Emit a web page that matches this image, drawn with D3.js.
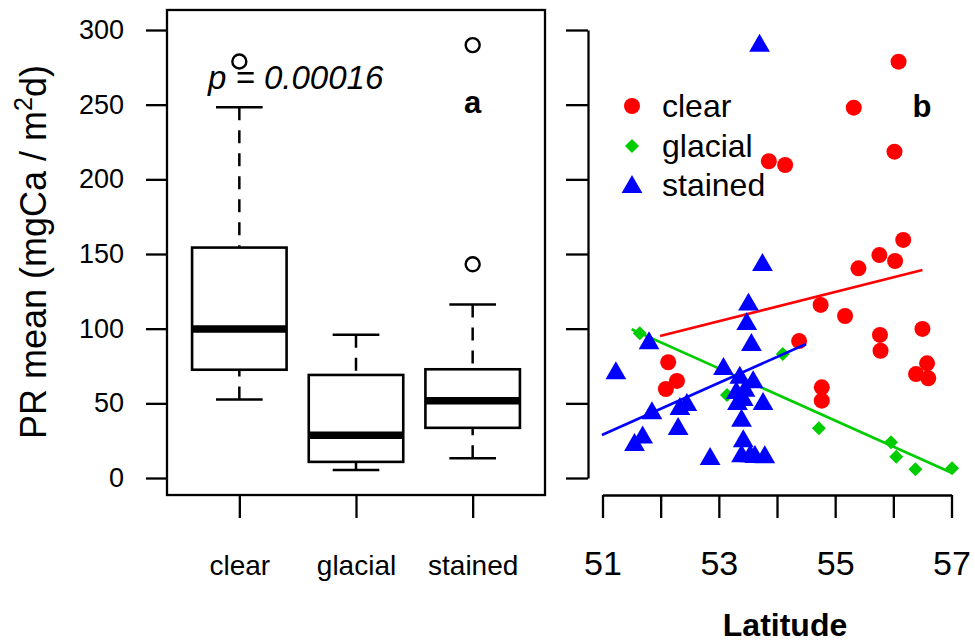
<!DOCTYPE html>
<html>
<head>
<meta charset="utf-8">
<script src="https://cdn.jsdelivr.net/npm/d3@7"></script>
<style>
  html, body { margin: 0; padding: 0; background: #fff; }
  svg { display: block; }
  text { font-family: "Liberation Sans", Arial, sans-serif; fill: #000; }
</style>
</head>
<body>
<svg id="chart" width="975" height="643"></svg>
<script>
// ---------- data ----------
const categories = ["clear", "glacial", "stained"];
const boxLow     = [52.5, 5.3, 13.3];
const boxQ1      = [72.5, 10.8, 33.6];
const boxMedian  = [99.8, 28.6, 51.7];
const boxQ3      = [154.3, 69.0, 72.8];
const boxHigh    = [248.2, 95.9, 116.2];
const boxOutliers = [[278.9], [], [143.1, 289.9]];

const yTicks = [0, 50, 100, 150, 200, 250, 300];
const latTicks = [51, 52, 53, 54, 55, 56, 57];
const latLabels = [51, 53, 55, 57];

const clearLat = [56.17, 55.76, 56.03, 55.40, 54.75, 55.17, 55.77, 55.78, 56.50, 54.38, 56.58, 56.39,
                  56.60, 54.77, 54.77, 52.13, 52.28, 52.09, 56.09, 55.32, 56.02, 53.86, 54.14];
const clearPR  = [159.4, 149.3, 145.3, 140.4, 115.9, 108.5, 95.8, 85.2, 99.8, 91.7, 76.8, 69.6,
                  66.8, 60.7, 51.8, 77.5, 65.0, 59.6, 278.8, 248.0, 218.5, 212.1, 209.6];

const glacialLat = [51.64, 54.10, 53.14, 54.72, 55.96, 56.05, 56.38, 57.01];
const glacialPR  = [96.9, 83.0, 55.6, 33.3, 23.9, 14.3, 5.8, 6.5];

const stainedLat = [53.70, 53.75, 53.51, 53.48, 53.56, 51.80, 51.23, 53.08, 53.36, 53.59, 53.30, 53.42,
                    53.32, 53.45, 53.76, 51.85, 52.33, 52.45, 52.30, 53.39, 51.69, 51.55, 53.42, 53.39,
                    53.54, 53.62, 53.79, 52.85];
const stainedPR  = [289.5, 142.6, 116.1, 103.1, 89.1, 90.2, 70.1, 73.0, 67.2, 64.1, 56.9, 52.2,
                    49.6, 58.5, 49.6, 43.3, 46.2, 48.9, 32.8, 38.4, 27.2, 22.1, 24.6, 14.5,
                    14.5, 14.0, 13.9, 12.7];

const trendClear   = [[51.99, 95.1], [56.50, 139.3]];
const trendGlacial = [[51.50, 99.6], [57.00, 3.5]];
const trendStained = [[50.99, 28.8], [54.50, 89.7]];

const legendLabels = ["clear", "glacial", "stained"];

// ---------- styles ----------
const colClear = "#ff0000", colGlacial = "#00cd00", colStained = "#0000ff";
const font = '"Liberation Sans", Arial, sans-serif';

const svg = d3.select("#chart");
svg.append("rect").attr("width", 975).attr("height", 643).attr("fill", "#fff");

// shared y scale
const y = d3.scaleLinear().domain([0, 300]).range([478, 30]);

// ---------- left panel: boxplot ----------
const xb = d3.scaleLinear().domain([0.38, 3.62]).range([167, 545]);
const yLim = [-11.4, 313.4];
const left = svg.append("g");

// frame
left.append("rect")
  .attr("x", xb(0.38)).attr("y", y(yLim[1]))
  .attr("width", xb(3.62) - xb(0.38)).attr("height", y(yLim[0]) - y(yLim[1]))
  .attr("fill", "none").attr("stroke", "#000").attr("stroke-width", 2.3);

// y axis
const yAxisL = d3.axisLeft(y).tickValues(yTicks).tickSize(21).tickPadding(22);
const gyl = left.append("g").attr("transform", `translate(${xb(0.38)},0)`).call(yAxisL);
gyl.select(".domain").remove();
gyl.selectAll(".tick line").attr("stroke", "#000").attr("stroke-width", 2.3);
gyl.selectAll(".tick text").attr("font-family", font).attr("font-size", 27).attr("fill", "#000");

// x axis (categories)
const xAxisB = d3.axisBottom(xb).tickValues([1, 2, 3]).tickFormat((d) => categories[d - 1])
  .tickSize(23).tickPadding(37);
const gxb = left.append("g").attr("transform", `translate(0,${y(yLim[0])})`).call(xAxisB);
gxb.select(".domain").remove();
gxb.selectAll(".tick line").attr("stroke", "#000").attr("stroke-width", 2.3);
gxb.selectAll(".tick text").attr("font-family", font).attr("font-size", 28).attr("fill", "#000");

// boxes
const boxHalf = 0.405, capHalf = 0.2;
categories.forEach((c, i) => {
  const cx = i + 1;
  const g = left.append("g");
  g.append("line").attr("x1", xb(cx)).attr("x2", xb(cx)).attr("y1", y(boxHigh[i])).attr("y2", y(boxQ3[i]))
    .attr("stroke", "#000").attr("stroke-width", 2.5).attr("stroke-dasharray", "13,10");
  g.append("line").attr("x1", xb(cx)).attr("x2", xb(cx)).attr("y1", y(boxLow[i])).attr("y2", y(boxQ1[i]))
    .attr("stroke", "#000").attr("stroke-width", 2.5).attr("stroke-dasharray", "13,10");
  [boxHigh[i], boxLow[i]].forEach((v) => {
    g.append("line").attr("x1", xb(cx - capHalf)).attr("x2", xb(cx + capHalf)).attr("y1", y(v)).attr("y2", y(v))
      .attr("stroke", "#000").attr("stroke-width", 2.5);
  });
  g.append("rect").attr("x", xb(cx - boxHalf)).attr("y", y(boxQ3[i]))
    .attr("width", xb(cx + boxHalf) - xb(cx - boxHalf)).attr("height", y(boxQ1[i]) - y(boxQ3[i]))
    .attr("fill", "#fff").attr("stroke", "#000").attr("stroke-width", 2.6);
  g.append("line").attr("x1", xb(cx - boxHalf)).attr("x2", xb(cx + boxHalf))
    .attr("y1", y(boxMedian[i])).attr("y2", y(boxMedian[i]))
    .attr("stroke", "#000").attr("stroke-width", 7.5);
  boxOutliers[i].forEach((v) => {
    g.append("circle").attr("cx", xb(cx)).attr("cy", y(v)).attr("r", 7)
      .attr("fill", "none").attr("stroke", "#000").attr("stroke-width", 2.4);
  });
});

// annotation texts
left.append("text").attr("x", 208).attr("y", 89).attr("font-size", 33).attr("font-style", "italic")
  .text("p = 0.00016");
left.append("text").attr("x", xb(3)).attr("y", 113).attr("text-anchor", "middle")
  .attr("font-size", 31).attr("font-weight", "bold").text("a");

// y title
const yt = svg.append("text").attr("transform", "translate(46,252) rotate(-90)")
  .attr("text-anchor", "middle").attr("font-size", 36);
yt.append("tspan").text("PR mean (mgCa / m");
yt.append("tspan").attr("font-size", 25).attr("dy", -14).text("2");
yt.append("tspan").attr("dy", 14).text("d)");

// ---------- right panel: scatter ----------
const xl = d3.scaleLinear().domain([51, 57]).range([602.5, 951.5]);
const right = svg.append("g");

const yAxisR = d3.axisLeft(y).tickValues(yTicks).tickSize(22).tickSizeOuter(0).tickFormat("");
const gyr = right.append("g").attr("transform", "translate(588,0)").call(yAxisR);
gyr.selectAll("path, line").attr("stroke", "#000").attr("stroke-width", 2.3);

const xAxisR = d3.axisBottom(xl).tickValues(latTicks).tickSize(23).tickSizeOuter(0).tickPadding(33)
  .tickFormat((d) => latLabels.includes(d) ? d : "");
const gxr = right.append("g").attr("transform", "translate(0,495)").call(xAxisR);
gxr.selectAll("path, line").attr("stroke", "#000").attr("stroke-width", 2.3);
gxr.selectAll(".tick text").attr("font-family", font).attr("font-size", 34).attr("fill", "#000");

right.append("text").attr("x", 785).attr("y", 636).attr("text-anchor", "middle")
  .attr("font-size", 32).attr("font-weight", "bold").text("Latitude");

// symbols
const circleSym = d3.symbol().type(d3.symbolCircle).size(Math.PI * 64);
const triSym = d3.symbol().type(d3.symbolTriangle).size(187);
const diaSym = d3.symbol().type(d3.symbolSquare).size(98);

const line = d3.line().x((d) => xl(d[0])).y((d) => y(d[1]));

function drawPoints(lat, pr, sym, col, rot) {
  right.append("g").selectAll("path").data(lat.map((d, i) => [d, pr[i]])).join("path")
    .attr("d", sym)
    .attr("transform", (d) => `translate(${xl(d[0])},${y(d[1])})${rot ? " rotate(45)" : ""}`)
    .attr("fill", col);
}
function drawTrend(data, col) {
  right.append("path").datum(data).attr("d", line).attr("fill", "none")
    .attr("stroke", col).attr("stroke-width", 2.6);
}

drawPoints(clearLat, clearPR, circleSym, colClear, false);
drawTrend(trendClear, colClear);
drawPoints(glacialLat, glacialPR, diaSym, colGlacial, true);
drawTrend(trendGlacial, colGlacial);
drawPoints(stainedLat, stainedPR, triSym, colStained, false);
drawTrend(trendStained, colStained);

// legend
const legSyms = [[circleSym, colClear, false], [diaSym, colGlacial, true], [triSym, colStained, false]];
const legY = [106, 146, 185];
legendLabels.forEach((lab, i) => {
  const [s, c, r] = legSyms[i];
  right.append("path").attr("d", s)
    .attr("transform", `translate(632,${legY[i] + (i === 2 ? 2 : 0)})${r ? " rotate(45)" : ""}`)
    .attr("fill", c);
  right.append("text").attr("x", 662).attr("y", legY[i] + 11).attr("font-size", 32).text(lab);
});

right.append("text").attr("x", 922).attr("y", 117).attr("text-anchor", "middle")
  .attr("font-size", 31).attr("font-weight", "bold").text("b");
</script>
</body>
</html>
